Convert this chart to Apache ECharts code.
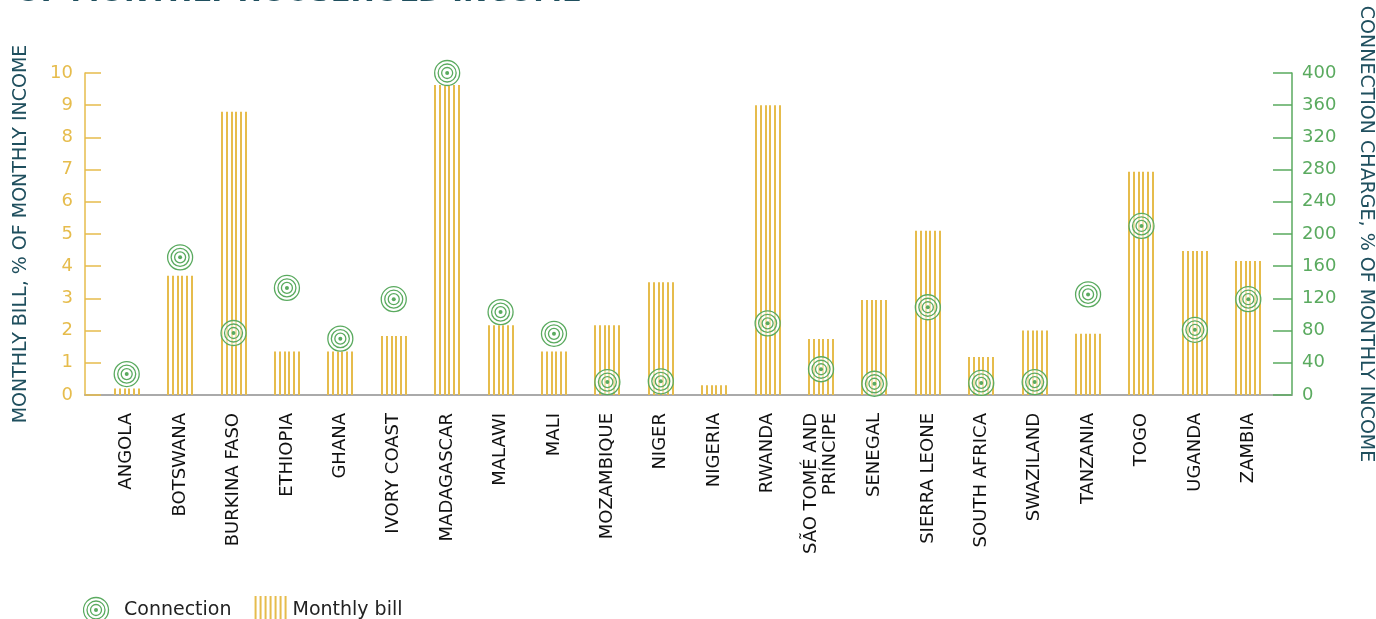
<!DOCTYPE html>
<html>
<head>
<meta charset="utf-8">
<script src="https://cdn.jsdelivr.net/npm/echarts@6/dist/echarts.min.js"></script>
<style>
  html, body { margin: 0; background: #fff; }
  #chart { width: 1376px; height: 619px; }
</style>
</head>
<body>
<div id="chart"></div>
<script>
// values
const countries = ['ANGOLA', 'BOTSWANA', 'BURKINA FASO', 'ETHIOPIA', 'GHANA', 'IVORY COAST', 'MADAGASCAR',
  'MALAWI', 'MALI', 'MOZAMBIQUE', 'NIGER', 'NIGERIA', 'RWANDA', 'SÃO TOMÉ AND\nPRÍNCIPE', 'SENEGAL',
  'SIERRA LEONE', 'SOUTH AFRICA', 'SWAZILAND', 'TANZANIA', 'TOGO', 'UGANDA', 'ZAMBIA']
const monthlyBill = [0.2, 3.7, 8.8, 1.35, 1.35, 1.83, 9.63, 2.17, 1.35, 2.17, 3.5, 0.3, 9.0, 1.74, 2.95,
  5.1, 1.18, 2.0, 1.9, 6.93, 4.47, 4.16]
const connectionCharge = [26, 171, 77, 133, 70, 119, 400, 103, 76, 16, 17, null, 89, 32, 14,
  109, 15, 16, 125, 210, 81, 119]

const yellow = '#e6bc4c'
const green = '#5aaa5f'
const teal = '#1f4f5e'
const font = 'DejaVu Sans'

function ringIcon() {
  const c = document.createElement('canvas')
  c.width = 36
  c.height = 28
  const ctx = c.getContext('2d')
  ctx.strokeStyle = green
  ctx.lineWidth = 1.3
  ;[12.5, 9, 5.5].forEach(r => {
    ctx.beginPath()
    ctx.arc(13, 14, r, 0, Math.PI * 2)
    ctx.stroke()
  })
  ctx.fillStyle = green
  ctx.beginPath()
  ctx.arc(13, 14, 2, 0, Math.PI * 2)
  ctx.fill()
  return 'image://' + c.toDataURL()
}

function stripeIcon() {
  const c = document.createElement('canvas')
  c.width = 36
  c.height = 28
  const ctx = c.getContext('2d')
  ctx.fillStyle = yellow
  for (let i = 0; i < 7; i++) {
    ctx.fillRect(3 + i * 5, 0, 2, 28)
  }
  return 'image://' + c.toDataURL()
}

function renderBill(params, api) {
  const top = api.coord([api.value(0), api.value(1)])
  const base = api.coord([api.value(0), 0])
  const w = 26
  const n = 6
  const gap = (w - 2) / (n - 1)
  const left = Math.round(top[0] - w / 2)
  const children = []
  for (let i = 0; i < n; i++) {
    children.push({
      type: 'rect',
      shape: { x: Math.round(left + i * gap), y: top[1], width: 2, height: base[1] - top[1] },
      style: { fill: yellow }
    })
  }
  return { type: 'group', children }
}

function renderRing(params, api) {
  const p = api.coord([api.value(0), api.value(1)])
  const ring = r => ({ type: 'circle', shape: { cx: 0, cy: 0, r }, style: { fill: 'none', stroke: green, lineWidth: 1.3 } })
  return {
    type: 'group',
    x: p[0],
    y: p[1],
    children: [
      { type: 'circle', shape: { cx: 0, cy: 0, r: 12.5 }, style: { fill: 'rgba(255,255,255,0.55)', stroke: green, lineWidth: 1.3 } },
      ring(9),
      ring(5.5),
      { type: 'circle', shape: { cx: 0, cy: 0, r: 2 }, style: { fill: green } }
    ]
  }
}

const billData = monthlyBill.map((v, i) => [i, v])
const connData = connectionCharge.map((v, i) => [i, v]).filter(d => d[1] != null)

const chart = echarts.init(document.getElementById('chart'))
chart.setOption({
  backgroundColor: '#fff',
  textStyle: { fontFamily: font },
  graphic: [{
    type: 'text',
    left: 16,
    top: -21,
    style: { text: 'OF MONTHLY HOUSEHOLD INCOME', font: 'bold 29px "DejaVu Sans"', fill: teal }
  }],
  legend: {
    left: 78,
    top: 591,
    itemWidth: 36,
    itemHeight: 28,
    itemGap: 20,
    textStyle: { color: '#222', fontSize: 19, fontFamily: font },
    data: [
      { name: 'Connection', icon: ringIcon() },
      { name: 'Monthly bill', icon: stripeIcon() }
    ]
  },
  grid: [
    { left: 100, right: 101, top: 73, bottom: 224, containLabel: false, outerBoundsMode: 'none' },
    { left: 85, right: 84, top: 73, bottom: 224, containLabel: false, outerBoundsMode: 'none' }
  ],
  xAxis: [{
    type: 'category',
    gridIndex: 0,
    data: countries,
    axisLine: { show: false },
    axisTick: { show: false },
    axisLabel: {
      rotate: 90,
      interval: 0,
      margin: 18,
      color: '#111',
      fontSize: 18,
      lineHeight: 19,
      fontFamily: font
    }
  }, {
    type: 'value',
    gridIndex: 1,
    axisLine: { show: true, lineStyle: { color: '#aaa', width: 2 } },
    axisTick: { show: false },
    axisLabel: { show: false },
    splitLine: { show: false }
  }],
  yAxis: [{
    type: 'value',
    gridIndex: 0,
    position: 'left',
    offset: 15,
    min: 0,
    max: 10,
    interval: 1,
    name: 'MONTHLY BILL, % OF MONTHLY INCOME',
    nameLocation: 'middle',
    nameGap: 54,
    nameTextStyle: { color: teal, fontSize: 19, fontFamily: font },
    axisLine: { show: true, lineStyle: { color: yellow, width: 1.5 } },
    axisTick: { show: true, inside: true, length: 16, lineStyle: { color: yellow, width: 1.5 } },
    axisLabel: { color: yellow, fontSize: 18, margin: 12, fontFamily: font },
    splitLine: { show: false }
  }, {
    type: 'value',
    gridIndex: 0,
    position: 'right',
    offset: 17,
    min: 0,
    max: 400,
    interval: 40,
    name: 'CONNECTION CHARGE, % OF MONTHLY INCOME',
    nameLocation: 'middle',
    nameRotate: -90,
    nameGap: 64,
    nameTextStyle: { color: teal, fontSize: 19, fontFamily: font },
    axisLine: { show: true, lineStyle: { color: green, width: 1.5 } },
    axisTick: { show: true, inside: true, length: 19, lineStyle: { color: green, width: 1.5 } },
    axisLabel: { color: green, fontSize: 18, margin: 10, fontFamily: font },
    splitLine: { show: false }
  }, {
    type: 'value',
    gridIndex: 1,
    show: false
  }],
  series: [{
    name: 'Monthly bill',
    type: 'custom',
    xAxisIndex: 0,
    yAxisIndex: 0,
    renderItem: renderBill,
    data: billData,
    z: 2
  }, {
    name: 'Connection',
    type: 'custom',
    xAxisIndex: 0,
    yAxisIndex: 1,
    renderItem: renderRing,
    data: connData,
    z: 3
  }]
})
</script>
</body>
</html>
